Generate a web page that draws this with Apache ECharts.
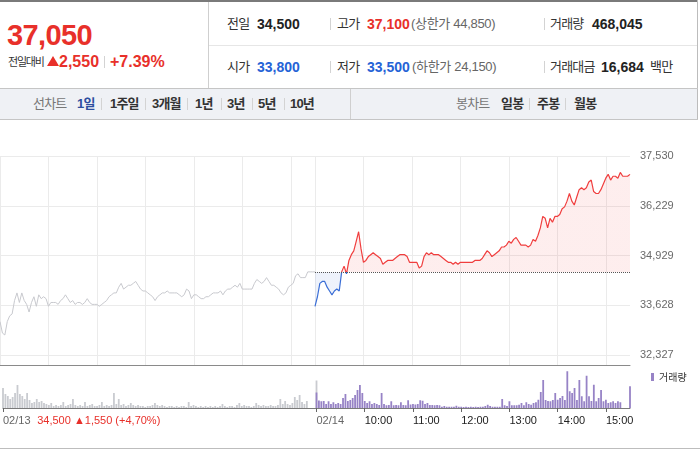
<!DOCTYPE html>
<html><head><meta charset="utf-8">
<script src="https://cdn.jsdelivr.net/npm/echarts@6/dist/echarts.min.js"></script>
<style>
html,body{margin:0;padding:0;background:#fff;}
body{width:700px;height:450px;position:relative;overflow:hidden;font-family:"Liberation Sans","Noto Sans CJK KR",Arial,sans-serif;}
.a{position:absolute;white-space:nowrap;line-height:20px;}
.k{font-size:13px;color:#333;letter-spacing:-0.8px;}
.n{font-size:14px;font-weight:bold;color:#222;}
.g{font-size:13px;color:#666;letter-spacing:-0.3px;}
.r{color:#e8302a;}
.b{color:#2563d6;}
.tb{font-size:13px;font-weight:bold;color:#333;letter-spacing:-0.8px;}
.tg{font-size:13px;color:#777;letter-spacing:-0.8px;}
.l{position:absolute;}
.sp{position:absolute;width:1px;height:12px;background:#d3d3d3;}
#chart{position:absolute;left:0;top:120px;width:700px;height:330px;}
</style></head><body>
<div class="l" style="left:0;top:0;width:698px;height:2px;background:#7a7a7a"></div>
<div class="l" style="left:697px;top:0;width:1px;height:120px;background:#bcbcbc"></div>
<div class="l" style="left:208px;top:2px;width:1px;height:86px;background:#cfcfcf"></div>
<div class="l" style="left:209px;top:45px;width:488px;height:1px;background:#e6e6e6"></div>
<div class="l" style="left:0;top:88px;width:698px;height:1px;background:#c5c5c5"></div>
<div class="l" style="left:0;top:89px;width:697px;height:30px;background:#eff1f5"></div>
<div class="l" style="left:0;top:119px;width:698px;height:1px;background:#c5c5c5"></div>
<div class="l" style="left:350px;top:89px;width:1px;height:30px;background:#cfcfcf"></div>
<div class="l" style="left:0;top:448px;width:700px;height:1px;background:#bdbdbd"></div>

<span class="a r" style="left:7px;top:18px;line-height:34px;font-size:29px;font-weight:bold;letter-spacing:-0.6px">37,050</span>
<span class="a" style="left:8px;top:52px;font-size:11px;color:#333;letter-spacing:-1.2px">전일대비</span>
<div class="l" style="left:47px;top:56px;width:0;height:0;border-left:6px solid transparent;border-right:6px solid transparent;border-bottom:10px solid #e8302a"></div>
<span class="a r" style="left:59px;top:52px;font-size:16px;font-weight:bold">2,550</span>
<div class="sp" style="left:104px;top:56px"></div>
<span class="a r" style="left:110px;top:52px;font-size:16px;font-weight:bold">+7.39%</span>

<span class="a k" style="left:227px;top:14px">전일</span>
<span class="a n" style="left:257px;top:14px">34,500</span>
<div class="sp" style="left:330px;top:18px"></div>
<span class="a k" style="left:337px;top:14px">고가</span>
<span class="a n r" style="left:367px;top:14px">37,100</span>
<span class="a g" style="left:411px;top:14px">(상한가 44,850)</span>
<div class="sp" style="left:544px;top:18px"></div>
<span class="a k" style="left:550px;top:14px">거래량</span>
<span class="a n" style="left:592px;top:14px">468,045</span>

<span class="a k" style="left:227px;top:57px">시가</span>
<span class="a n b" style="left:257px;top:57px">33,800</span>
<div class="sp" style="left:330px;top:61px"></div>
<span class="a k" style="left:337px;top:57px">저가</span>
<span class="a n b" style="left:367px;top:57px">33,500</span>
<span class="a g" style="left:412px;top:57px">(하한가 24,150)</span>
<div class="sp" style="left:544px;top:61px"></div>
<span class="a k" style="left:550px;top:57px">거래대금</span>
<span class="a n" style="left:601px;top:57px">16,684</span>
<span class="a k" style="left:650px;top:57px">백만</span>

<span class="a tg" style="left:33px;top:94px">선차트</span>
<span class="a tb" style="left:77px;top:94px;color:#2d4ea0">1일</span>
<div class="sp" style="left:101px;top:98px"></div>
<span class="a tb" style="left:110px;top:94px">1주일</span>
<div class="sp" style="left:145px;top:98px"></div>
<span class="a tb" style="left:152px;top:94px">3개월</span>
<div class="sp" style="left:187px;top:98px"></div>
<span class="a tb" style="left:195px;top:94px">1년</span>
<div class="sp" style="left:221px;top:98px"></div>
<span class="a tb" style="left:227px;top:94px">3년</span>
<div class="sp" style="left:252px;top:98px"></div>
<span class="a tb" style="left:258px;top:94px">5년</span>
<div class="sp" style="left:284px;top:98px"></div>
<span class="a tb" style="left:290px;top:94px">10년</span>
<span class="a tg" style="left:456px;top:94px">봉차트</span>
<span class="a tb" style="left:501px;top:94px">일봉</span>
<div class="sp" style="left:529px;top:98px"></div>
<span class="a tb" style="left:537px;top:94px">주봉</span>
<div class="sp" style="left:565px;top:98px"></div>
<span class="a tb" style="left:574px;top:94px">월봉</span>

<div id="chart"></div>
<script>
// 3-minute steps, 02/13 09:00-15:30 then 02/14 09:00-15:30 (index 130 shared)
const day1Price = [
33200,32900,32850,33200,33350,33400,33750,33950,33700,33950,
33750,33650,33450,33700,33850,33600,33900,33800,33850,33800,
33600,33700,33700,33700,33650,33750,33800,33900,33800,33700,
33750,33650,33700,33700,33650,33700,33800,33700,33650,33650,
33650,33600,33650,33700,33750,33850,33900,33950,33950,34100,
34200,34050,34100,34150,34150,34200,34250,34150,34050,34000,
34000,33950,33900,33850,33750,33850,33900,33950,33950,34000,
33950,33950,33950,33950,33900,33850,33900,34050,34000,33800,
33900,33900,33850,33800,33800,33850,33850,33900,33950,33950,
33950,34000,33900,34000,34050,34050,34100,34150,34100,34200,
34050,34050,34050,34050,34050,34200,34300,34250,34200,34250,
34350,34250,34150,34150,34100,34050,33950,33900,33950,34100,
34150,34200,34400,34450,34350,34350,34350,34500,34500,34500,
34500];
const day2Price = [
33600,33850,34200,34250,34250,34100,34000,33900,34000,34050,
34000,34500,34650,34450,34800,34950,35050,35300,35550,35100,
34750,34800,34900,34950,35000,34950,34900,34850,34700,34750,
34800,34800,34800,34850,34900,34950,34950,34950,34900,34750,
34750,34750,34750,34600,34650,34900,35000,34950,35000,34950,
34950,34950,34900,34850,34800,34750,34750,34700,34750,34700,
34750,34750,34750,34750,34750,34750,34800,34800,34800,34850,
34950,35050,35000,34900,34950,35000,35050,35150,35150,35200,
35300,35250,35350,35400,35300,35200,35200,35200,35150,35200,
35350,35300,35450,35650,35950,35900,35650,35900,35800,35950,
35950,36000,36150,36200,36350,36550,36350,36250,36450,36650,
36700,36650,36700,36850,36900,36600,36550,36550,36650,36800,
36950,37050,36900,37000,37000,36950,37100,37000,37000,37000,
37050];
const day1Vol = [
8000,5600,4800,3600,4400,6000,9200,5600,4800,3600,
6000,3200,2000,2400,3600,2400,2800,2000,1600,1200,
2000,800,1200,800,1200,2400,800,1200,1600,3600,
1200,800,1200,800,2400,800,1200,1600,800,800,
1200,2400,800,1200,800,1200,6000,1600,3600,1200,
1600,800,1200,2000,1200,800,1200,800,800,400,
800,800,1200,2000,1200,800,1200,800,400,800,
800,400,800,400,800,800,400,2400,800,1200,
800,400,800,400,800,400,800,400,800,400,
800,1600,800,400,800,800,400,1200,2000,800,
1200,800,800,400,800,2000,1200,800,1200,800,
800,1200,800,800,1200,3600,1600,2800,1600,1200,
2000,4400,3200,5200,2400,1600,2800,0,0,0,
11000];
const day2Vol = [
6200,3000,2700,2800,1600,2700,1600,2300,1600,2000,
1600,4000,5600,2800,3200,4000,5200,7200,9200,6000,
2800,2000,2700,1600,2000,1600,1200,6000,1600,1100,
1200,2700,1100,1200,1100,2300,1200,1100,3100,1400,
1600,1400,1600,3100,2900,1600,2000,1200,1200,1100,
1200,1100,500,800,500,500,500,500,900,500,
500,400,500,400,500,400,500,400,500,500,
800,1300,800,500,500,500,500,3600,1100,800,
2700,1100,1100,1100,1300,2000,1100,2300,1600,1300,
2000,2300,3300,6400,11200,3200,2800,2700,3200,6000,
3300,4000,4800,3200,14700,6700,6000,8000,3200,11200,
4700,2700,12900,4700,2800,9300,2700,4000,7200,2700,
3300,2000,2300,2700,2000,2700,2300,0,0,0,
8700];
const yTicks = [32327, 33628, 34929, 36229, 37530];
const prevClose = 34500;
const prevInfo = '34,500 ▲1,550 (+4,70%)';
const xLabels = {0:'02/13', 130:'02/14', 150:'10:00', 170:'11:00', 190:'12:00', 210:'13:00', 230:'14:00', 250:'15:00'};
const gridIdx = [0,20,40,60,80,100,120,130,150,170,190,210,230,250];

const dayStart = day1Price.length - 1;
const N = dayStart + day2Price.length;
const categories = [];
for (let k = 0; k < N; k++) {
  const d = k < dayStart ? 0 : 1;
  const m = (d ? k - dayStart : k) * 3;
  const h = 9 + Math.floor(m / 60), mm = m % 60;
  categories.push((d ? '02/14 ' : '02/13 ') + String(h).padStart(2, '0') + ':' + String(mm).padStart(2, '0'));
}
const pad = n => Array(n).fill(null);
const prevLine = day1Price.concat(pad(N - day1Price.length));
const todayLine = pad(dayStart).concat(day2Price);
const prevBars = day1Vol.concat(pad(N - day1Vol.length));
const todayBars = pad(dayStart).concat(day2Vol);

const RED = '#f03e3e', BLUE = '#3a6ed6';
const chart = echarts.init(document.getElementById('chart'));
chart.setOption({
  animation: false,
  textStyle: {fontFamily: '"Liberation Sans","Noto Sans CJK KR",sans-serif'},
  grid: [
    {left: 0, top: 36, width: 630, height: 209},
    {left: 0, top: 247, width: 630, height: 41}
  ],
  xAxis: [
    {type: 'category', gridIndex: 0, data: categories, boundaryGap: false,
     axisLine: {onZero: false, lineStyle: {color: '#8a8a8a', width: 1}},
     axisTick: {show: false}, axisLabel: {show: false},
     splitLine: {show: true, interval: (i) => gridIdx.includes(i), lineStyle: {color: '#ebebeb', width: 1}}},
    {type: 'category', gridIndex: 1, data: categories, boundaryGap: false,
     axisLine: {onZero: false, lineStyle: {color: '#7a7a7a', width: 1}},
     axisTick: {show: true, interval: (i) => (i in xLabels), length: 4, lineStyle: {color: '#666'}},
     axisLabel: {interval: (i) => (i in xLabels), align: 'left', margin: 7,
       formatter: (v, i) => i === 0 ? '{g|' + xLabels[0] + '}  {r|' + prevInfo + '}'
                          : (i === dayStart ? '{g|' + xLabels[i] + '}' : '{b|' + xLabels[i] + '}'),
       rich: {g: {color: '#666', fontSize: 11}, r: {color: '#e8302a', fontSize: 11}, b: {color: '#222', fontSize: 11}}},
     splitLine: {show: false}}
  ],
  yAxis: [
    {type: 'value', gridIndex: 0, position: 'right', min: 32065, max: 37530,
     axisLine: {show: false}, axisTick: {show: false, customValues: yTicks},
     axisLabel: {customValues: yTicks, color: '#6a6a6a', fontSize: 11, margin: 10,
       formatter: v => Math.round(v).toLocaleString('en-US')},
     splitLine: {show: true, lineStyle: {color: '#ebebeb', width: 1}}},
    {type: 'value', gridIndex: 1, min: 0, max: 16400, show: false}
  ],
  legend: {data: ['거래량'], left: 651, top: 252, padding: 0, itemWidth: 3, itemHeight: 8, icon: 'rect',
    selectedMode: false, textStyle: {fontSize: 10, color: '#333', fontFamily: '"Noto Sans CJK KR",sans-serif'}},
  series: [
    {name: 'prev', type: 'line', xAxisIndex: 0, yAxisIndex: 0, data: prevLine, symbol: 'none',
     lineStyle: {color: '#c8c9ce', width: 1}, itemStyle: {color: '#c8c9ce'}, z: 2, silent: true},
    {name: 'today', type: 'line', xAxisIndex: 0, yAxisIndex: 0, data: todayLine, symbol: 'none',
     lineStyle: {width: 1.2, color: RED}, itemStyle: {color: RED},
     areaStyle: {origin: prevClose, color: 'rgba(240,62,62,0.13)'}, z: 3, silent: true,
     markLine: {symbol: 'none', silent: true, label: {show: false},
       lineStyle: {color: '#555', type: 'dotted', width: 1},
       data: [[{coord: [dayStart, prevClose]}, {coord: [N - 1, prevClose]}]]}},
    {name: 'prevVol', type: 'bar', xAxisIndex: 1, yAxisIndex: 1, data: prevBars, barWidth: 1.8,
     barGap: '-100%', clip: false, itemStyle: {color: '#c9cbd0'}, silent: true},
    {name: '거래량', type: 'bar', xAxisIndex: 1, yAxisIndex: 1, data: todayBars, barWidth: 1.8,
     barGap: '-100%', clip: false, itemStyle: {color: '#9783c6'}, silent: true}
  ]
});

// colour today's line/area red above and blue below the previous close, split at its pixel height
const yTop = chart.convertToPixel({yAxisIndex: 0}, 37530);
const yBot = chart.convertToPixel({yAxisIndex: 0}, 32065);
const yBase = chart.convertToPixel({yAxisIndex: 0}, prevClose);
const t = (yBase - yTop) / (yBot - yTop);
const grad = (up, down) => ({type: 'linear', x: 0, y: yTop, x2: 0, y2: yBot, global: true,
  colorStops: [{offset: 0, color: up}, {offset: t, color: up}, {offset: t, color: down}, {offset: 1, color: down}]});
chart.setOption({series: [{}, {
  lineStyle: {color: grad(RED, BLUE)},
  areaStyle: {color: grad('rgba(240,62,62,0.13)', 'rgba(58,110,214,0.12)')}
}]});
</script>
</body></html>
